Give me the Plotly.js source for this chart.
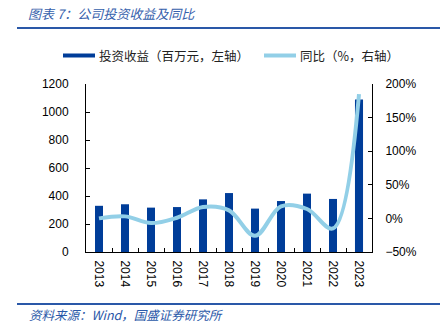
<!DOCTYPE html>
<html>
<head>
<meta charset="utf-8">
<script src="https://cdn.plot.ly/plotly-3.0.1.min.js"></script>
<style>html,body{margin:0;padding:0;background:#fff;}#chart{width:448px;height:332px;}</style>
</head>
<body>
<div id="chart"></div>
<script>
const years = ['2013','2014','2015','2016','2017','2018','2019','2020','2021','2022','2023'];
const investIncome = [330, 341, 317, 321, 376, 421, 310, 364, 417, 379, 1090];
const yoyPct = [0, 3, -7, 1, 17, 12, -26, 18, 14, -15, 185];
const barName = '投资收益（百万元，左轴）';
const lineName = '同比（%，右轴）';
const titleText = '图表 7：公司投资收益及同比';
const sourceText = '资料来源：Wind，国盛证券研究所';

const W = 448, H = 332;
const M = {l: 86, r: 76, t: 84, b: 80};
const pw = W - M.l - M.r, ph = H - M.t - M.b;
const px = x => (x - M.l) / pw;
const py = y => (H - M.b - y) / ph;

const FONT = 'Liberation Sans, Arial, sans-serif';
const CJK = 'Noto Sans CJK SC, sans-serif';
const barColor = '#003D99';
const lineColor = '#92CFE7';
const blue = '#2A58A8';

const traces = [
  {type: 'bar', x: years, y: investIncome, name: barName, marker: {color: barColor}, yaxis: 'y', showlegend: false},
  {type: 'scatter', mode: 'lines', x: years, y: yoyPct, name: lineName, yaxis: 'y2',
   line: {color: lineColor, width: 4, shape: 'spline', smoothing: 1}, showlegend: false}
];

const layout = {
  width: W, height: H,
  margin: M,
  paper_bgcolor: '#fff', plot_bgcolor: '#fff',
  bargap: 0.69,
  showlegend: false,
  font: {family: FONT, size: 12, color: '#000'},
  xaxis: {type: 'category', tickangle: 90, showline: true, linecolor: '#000', linewidth: 1,
          ticks: 'inside', ticklen: 4, tickcolor: '#000', tickson: 'boundaries',
          showgrid: false, zeroline: false, ticklabelstandoff: 5,
          tickfont: {family: FONT, size: 12, color: '#000'}},
  yaxis: {range: [0, 1200], dtick: 200, showline: true, linecolor: '#000', linewidth: 1,
          ticks: 'inside', ticklen: 4, tickcolor: '#000', showgrid: false, zeroline: false,
          ticklabelstandoff: 14, tickfont: {family: FONT, size: 12, color: '#000'}},
  yaxis2: {range: [-50, 200], dtick: 50, ticksuffix: '%', overlaying: 'y', side: 'right',
           showline: true, linecolor: '#000', linewidth: 1, ticks: 'inside', ticklen: 4,
           tickcolor: '#000', showgrid: false, zeroline: false, ticklabelstandoff: 10,
           tickfont: {family: FONT, size: 12, color: '#000'}},
  shapes: [
    {type: 'line', xref: 'paper', yref: 'paper', x0: px(17), x1: px(440), y0: py(28), y1: py(28),
     line: {color: blue, width: 2}},
    {type: 'line', xref: 'paper', yref: 'paper', x0: px(17), x1: px(440), y0: py(304), y1: py(304),
     line: {color: blue, width: 2}},
    {type: 'rect', xref: 'paper', yref: 'paper', x0: px(63), x1: px(95), y0: py(57.5), y1: py(53.5),
     fillcolor: barColor, line: {width: 0}},
    {type: 'line', xref: 'paper', yref: 'paper', x0: px(264), x1: px(296), y0: py(55.5), y1: py(55.5),
     line: {color: lineColor, width: 4}}
  ],
  annotations: [
    {text: titleText, xref: 'paper', yref: 'paper', x: px(26), y: py(14), xanchor: 'left', yanchor: 'middle',
     showarrow: false, font: {family: CJK, size: 13, color: '#3560AC', style: 'italic'}},
    {text: sourceText, xref: 'paper', yref: 'paper', x: px(27), y: py(314), xanchor: 'left', yanchor: 'middle',
     showarrow: false, font: {family: CJK, size: 12.5, color: blue, style: 'italic'}},
    {text: barName, xref: 'paper', yref: 'paper', x: px(97), y: py(55.5), xanchor: 'left', yanchor: 'middle',
     showarrow: false, font: {family: CJK, size: 12.5, color: '#222'}},
    {text: lineName, xref: 'paper', yref: 'paper', x: px(298), y: py(55.5), xanchor: 'left', yanchor: 'middle',
     showarrow: false, font: {family: CJK, size: 12.5, color: '#222'}}
  ]
};

Plotly.newPlot('chart', traces, layout, {displayModeBar: false, staticPlot: true});
</script>
</body>
</html>
